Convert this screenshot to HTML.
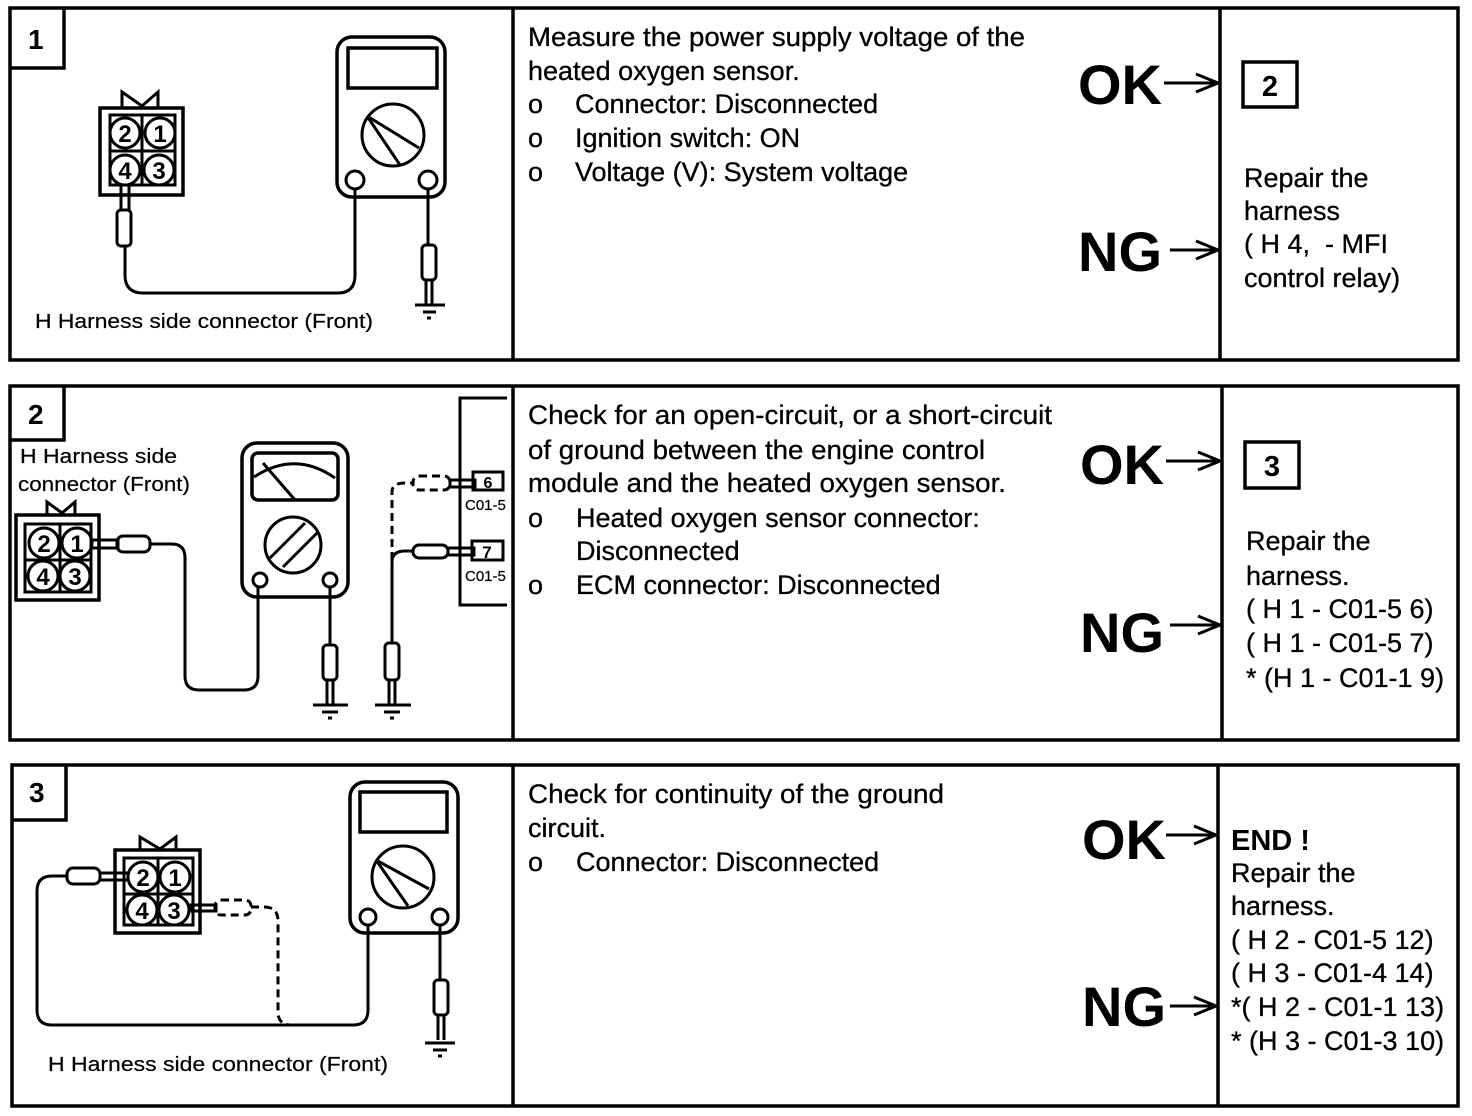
<!DOCTYPE html>
<html><head><meta charset="utf-8"><style>
html,body{margin:0;padding:0;background:#fff;}
svg{display:block;}
text{font-family:"Liberation Sans",Arial,sans-serif;fill:#000;}
.t{font-size:27px;stroke:#000;stroke-width:0.3;}
.big{font-size:56px;font-weight:bold;}
.num{font-size:28px;font-weight:bold;}
.pin{font-size:24px;font-weight:bold;}
.lb{font-size:20px;stroke:#000;stroke-width:0.2;}
.w{fill:none;stroke:#000;stroke-width:3;}
.th{fill:none;stroke:#000;stroke-width:3.5;}
.d{fill:none;stroke:#000;stroke-width:3;stroke-dasharray:8 5;}
</style></head><body>
<svg width="1472" height="1116" viewBox="0 0 1472 1116" xmlns="http://www.w3.org/2000/svg">
<!-- Panel frames -->
<rect x="10" y="8" width="1448" height="352" class="th"/>
<line x1="513" y1="8" x2="513" y2="360" class="th"/>
<line x1="1220" y1="8" x2="1220" y2="360" class="th"/>
<polyline points="10,68 64,68 64,8" class="th"/>
<text x="28" y="49" class="num">1</text>

<rect x="10" y="386" width="1448" height="354" class="th"/>
<line x1="513" y1="386" x2="513" y2="740" class="th"/>
<line x1="1222" y1="386" x2="1222" y2="740" class="th"/>
<polyline points="10,440 64,440 64,386" class="th"/>
<text x="28" y="424" class="num">2</text>

<rect x="12" y="765" width="1446" height="341" class="th"/>
<line x1="513" y1="765" x2="513" y2="1106" class="th"/>
<line x1="1218" y1="765" x2="1218" y2="1106" class="th"/>
<polyline points="12,820 66,820 66,765" class="th"/>
<text x="29" y="802" class="num">3</text>

<!-- ===== Panel 1 diagram ===== -->
<polyline points="122,108 122,92 142,106 158,92 158,108" class="w"/>
<rect x="100" y="108" width="83" height="87" class="th"/>
<rect x="110" y="115" width="65" height="70" class="w"/>
<line x1="142" y1="115" x2="142" y2="185" class="w"/><line x1="110" y1="151" x2="175" y2="151" class="w"/>
<g fill="#fff" stroke="#000" stroke-width="3">
<circle cx="125" cy="133" r="15"/><circle cx="160" cy="133" r="15"/>
<circle cx="125" cy="170" r="15"/><circle cx="159" cy="170" r="15"/></g>
<text x="125" y="142" class="pin" text-anchor="middle">2</text>
<text x="160" y="142" class="pin" text-anchor="middle">1</text>
<text x="125" y="179" class="pin" text-anchor="middle">4</text>
<text x="159" y="179" class="pin" text-anchor="middle">3</text>
<rect x="121" y="185" width="8" height="25" class="w"/>
<rect x="117" y="210" width="14" height="36" rx="4" class="w"/>
<path d="M125,246 V275 Q125,293 143,293 H338 Q355,293 355,275 V190" class="w"/>
<rect x="337" y="37" width="108" height="160" rx="15" class="th"/>
<rect x="348" y="48" width="89" height="40" class="th"/>
<circle cx="393" cy="135" r="31" class="w"/>
<line x1="367" y1="116" x2="419" y2="148" class="w"/><line x1="367" y1="116" x2="400" y2="165" class="w"/>
<circle cx="355" cy="180" r="9" class="w"/><circle cx="428" cy="180" r="9" class="w"/>
<line x1="428" y1="189" x2="428" y2="245" class="w"/>
<rect x="422" y="245" width="14" height="35" rx="4" class="w"/>
<line x1="426" y1="280" x2="426" y2="305" class="w"/><line x1="432" y1="280" x2="432" y2="305" class="w"/>
<line x1="415" y1="305" x2="445" y2="305" class="w"/><line x1="423" y1="312" x2="436" y2="312" class="w"/><line x1="427" y1="318" x2="431" y2="318" class="w"/>
<text x="35" y="328" class="lb" textLength="338" lengthAdjust="spacingAndGlyphs">H Harness side connector (Front)</text>

<!-- ===== Panel 2 diagram ===== -->
<text x="20" y="463" class="lb" textLength="157" lengthAdjust="spacingAndGlyphs">H Harness side</text>
<text x="18" y="491" class="lb" textLength="172" lengthAdjust="spacingAndGlyphs">connector (Front)</text>
<polyline points="47,515 47,502 62,513 75,502 75,515" class="w"/>
<rect x="16" y="515" width="83" height="85" class="th"/>
<rect x="25" y="524" width="66" height="68" class="w"/>
<line x1="60" y1="524" x2="60" y2="592" class="w"/><line x1="25" y1="560" x2="91" y2="560" class="w"/>
<g fill="#fff" stroke="#000" stroke-width="3">
<circle cx="44" cy="543" r="15"/><circle cx="77" cy="543" r="15"/>
<circle cx="43" cy="576" r="15"/><circle cx="75" cy="576" r="15"/></g>
<text x="44" y="552" class="pin" text-anchor="middle">2</text>
<text x="77" y="552" class="pin" text-anchor="middle">1</text>
<text x="43" y="585" class="pin" text-anchor="middle">4</text>
<text x="75" y="585" class="pin" text-anchor="middle">3</text>
<rect x="91" y="540" width="27" height="8" class="w"/>
<rect x="117" y="536" width="33" height="16" rx="6" class="w"/>
<path d="M150,544 H172 Q185,544 185,558 V676 Q185,690 199,690 H244 Q258,690 258,676 V587" class="w"/>
<rect x="242" y="443" width="106" height="154" rx="15" class="th"/>
<rect x="252" y="453" width="86" height="47" rx="6" class="th"/>
<path d="M254,477 Q295,450 335,478" class="w"/>
<line x1="263" y1="463" x2="295" y2="500" class="w"/>
<circle cx="293" cy="545" r="28" class="w"/>
<line x1="270" y1="558" x2="305" y2="523" class="w"/><line x1="283" y1="567" x2="318" y2="532" class="w"/>
<circle cx="260" cy="580" r="7" class="w"/><circle cx="330" cy="580" r="7" class="w"/>
<line x1="330" y1="587" x2="330" y2="645" class="w"/>
<rect x="323" y="645" width="14" height="35" rx="4" class="w"/>
<line x1="327" y1="680" x2="327" y2="705" class="w"/><line x1="333" y1="680" x2="333" y2="705" class="w"/>
<line x1="313" y1="705" x2="348" y2="705" class="w"/><line x1="322" y1="712" x2="338" y2="712" class="w"/><line x1="328" y1="718" x2="332" y2="718" class="w"/>
<rect x="385" y="643" width="14" height="37" rx="4" class="w"/>
<line x1="389" y1="680" x2="389" y2="705" class="w"/><line x1="395" y1="680" x2="395" y2="705" class="w"/>
<line x1="375" y1="705" x2="411" y2="705" class="w"/><line x1="384" y1="712" x2="400" y2="712" class="w"/><line x1="390" y1="718" x2="394" y2="718" class="w"/>
<path d="M392,643 V562 Q392,551 405,551 H413" class="w"/>
<rect x="413" y="545" width="35" height="13" rx="6" class="w"/>
<rect x="448" y="548" width="26" height="7" class="w"/>
<rect x="472" y="541" width="31" height="19" class="w"/>
<text x="487" y="558" font-size="17" font-weight="bold" text-anchor="middle">7</text>
<text x="465" y="581" font-size="15" class="lb" style="font-size:15px">C01-5</text>
<path d="M392,560 V492 Q392,483 405,483 H413" class="d"/>
<rect x="413" y="476" width="37" height="14" rx="6" class="d"/>
<rect x="450" y="480" width="25" height="7" class="w"/>
<rect x="473" y="472" width="30" height="18" class="w"/>
<text x="488" y="488" font-size="16" font-weight="bold" text-anchor="middle">6</text>
<text x="465" y="510" class="lb" style="font-size:15px">C01-5</text>
<polyline points="507,398 460,398 460,605 507,605" class="w"/>

<!-- ===== Panel 3 diagram ===== -->
<polyline points="140,850 140,837 160,849 176,837 176,850" class="w"/>
<rect x="115" y="850" width="85" height="83" class="th"/>
<rect x="124" y="858" width="69" height="67" class="w"/>
<line x1="158" y1="858" x2="158" y2="925" class="w"/><line x1="124" y1="894" x2="193" y2="894" class="w"/>
<g fill="#fff" stroke="#000" stroke-width="3">
<circle cx="143" cy="877" r="15"/><circle cx="175" cy="877" r="15"/>
<circle cx="142" cy="910" r="15"/><circle cx="174" cy="910" r="15"/></g>
<text x="143" y="886" class="pin" text-anchor="middle">2</text>
<text x="175" y="886" class="pin" text-anchor="middle">1</text>
<text x="142" y="919" class="pin" text-anchor="middle">4</text>
<text x="174" y="919" class="pin" text-anchor="middle">3</text>
<rect x="100" y="873" width="28" height="7" class="w"/>
<rect x="67" y="868" width="33" height="16" rx="6" class="w"/>
<path d="M67,876 H52 Q37,876 37,891 V1010 Q37,1025 52,1025 H353 Q368,1025 368,1010 V925" class="w"/>
<rect x="190" y="905" width="26" height="6" class="w"/>
<rect x="215" y="900" width="36" height="15" rx="6" class="d"/>
<path d="M251,907 H264 Q278,907 278,921 V1012 Q278,1024 290,1025" class="d"/>
<rect x="350" y="782" width="108" height="151" rx="15" class="th"/>
<rect x="360" y="792" width="87" height="40" class="th"/>
<circle cx="403" cy="877" r="31" class="w"/>
<line x1="376" y1="860" x2="429" y2="889" class="w"/><line x1="376" y1="860" x2="408" y2="906" class="w"/>
<circle cx="368" cy="917" r="8" class="w"/><circle cx="440" cy="917" r="8" class="w"/>
<line x1="440" y1="925" x2="440" y2="980" class="w"/>
<rect x="434" y="980" width="14" height="35" rx="4" class="w"/>
<line x1="438" y1="1015" x2="438" y2="1040" class="w"/><line x1="444" y1="1015" x2="444" y2="1040" class="w"/>
<line x1="425" y1="1043" x2="455" y2="1043" class="w"/><line x1="433" y1="1050" x2="447" y2="1050" class="w"/><line x1="438" y1="1056" x2="442" y2="1056" class="w"/>
<text x="48" y="1071" class="lb" textLength="340" lengthAdjust="spacingAndGlyphs">H Harness side connector (Front)</text>

<!-- ===== Text panel 1 ===== -->
<text x="528" y="46" class="t" textLength="497" lengthAdjust="spacingAndGlyphs">Measure the power supply voltage of the</text>
<text x="528" y="80" class="t">heated oxygen sensor.</text>
<text x="528" y="113" class="t">o</text><text x="575" y="113" class="t">Connector: Disconnected</text>
<text x="528" y="147" class="t">o</text><text x="575" y="147" class="t">Ignition switch: ON</text>
<text x="528" y="181" class="t">o</text><text x="575" y="181" class="t">Voltage (V): System voltage</text>

<text x="1078" y="104" class="big">OK</text>
<text x="1078" y="271" class="big">NG</text>
<rect x="1243" y="62" width="54" height="45" class="th"/>
<text x="1270" y="96" font-size="29" font-weight="bold" text-anchor="middle">2</text>
<text x="1244" y="187" class="t">Repair the</text>
<text x="1244" y="220" class="t">harness</text>
<text x="1244" y="253" class="t" xml:space="preserve">( H 4,  - MFI</text>
<text x="1244" y="287" class="t">control relay)</text>

<!-- ===== Text panel 2 ===== -->
<text x="528" y="424" class="t" textLength="524" lengthAdjust="spacingAndGlyphs">Check for an open-circuit, or a short-circuit</text>
<text x="528" y="459" class="t" textLength="457" lengthAdjust="spacingAndGlyphs">of ground between the engine control</text>
<text x="528" y="492" class="t" textLength="478" lengthAdjust="spacingAndGlyphs">module and the heated oxygen sensor.</text>
<text x="528" y="527" class="t">o</text><text x="576" y="527" class="t">Heated oxygen sensor connector:</text>
<text x="576" y="560" class="t">Disconnected</text>
<text x="528" y="594" class="t">o</text><text x="576" y="594" class="t">ECM connector: Disconnected</text>

<text x="1080" y="484" class="big">OK</text>
<text x="1080" y="652" class="big">NG</text>
<rect x="1245" y="442" width="54" height="46" class="th"/>
<text x="1272" y="476" font-size="29" font-weight="bold" text-anchor="middle">3</text>
<text x="1246" y="550" class="t">Repair the</text>
<text x="1246" y="585" class="t">harness.</text>
<text x="1246" y="618" class="t">( H 1 - C01-5 6)</text>
<text x="1246" y="652" class="t">( H 1 - C01-5 7)</text>
<text x="1246" y="687" class="t">* (H 1 - C01-1 9)</text>

<!-- ===== Text panel 3 ===== -->
<text x="528" y="803" class="t" textLength="416" lengthAdjust="spacingAndGlyphs">Check for continuity of the ground</text>
<text x="528" y="837" class="t">circuit.</text>
<text x="528" y="871" class="t">o</text><text x="576" y="871" class="t">Connector: Disconnected</text>

<text x="1082" y="859" class="big">OK</text>
<text x="1082" y="1026" class="big">NG</text>
<text x="1231" y="850" font-size="29" font-weight="bold">END !</text>
<text x="1231" y="882" class="t">Repair the</text>
<text x="1231" y="915" class="t">harness.</text>
<text x="1231" y="949" class="t">( H 2 - C01-5 12)</text>
<text x="1231" y="982" class="t">( H 3 - C01-4 14)</text>
<text x="1231" y="1016" class="t">*( H 2 - C01-1 13)</text>
<text x="1231" y="1050" class="t">* (H 3 - C01-3 10)</text>

<!-- arrows -->
<g class="w">
<path d="M1164,83 H1218 M1196,74 L1218,83 L1196,92"/>
<path d="M1170,250 H1218 M1196,241 L1218,250 L1196,259"/>
<path d="M1166,461 H1220 M1198,452 L1220,461 L1198,470"/>
<path d="M1170,625 H1220 M1198,616 L1220,625 L1198,634"/>
<path d="M1166,835 H1216 M1194,826 L1216,835 L1194,844"/>
<path d="M1170,1006 H1216 M1194,997 L1216,1006 L1194,1015"/>
</g>
</svg>
</body></html>
